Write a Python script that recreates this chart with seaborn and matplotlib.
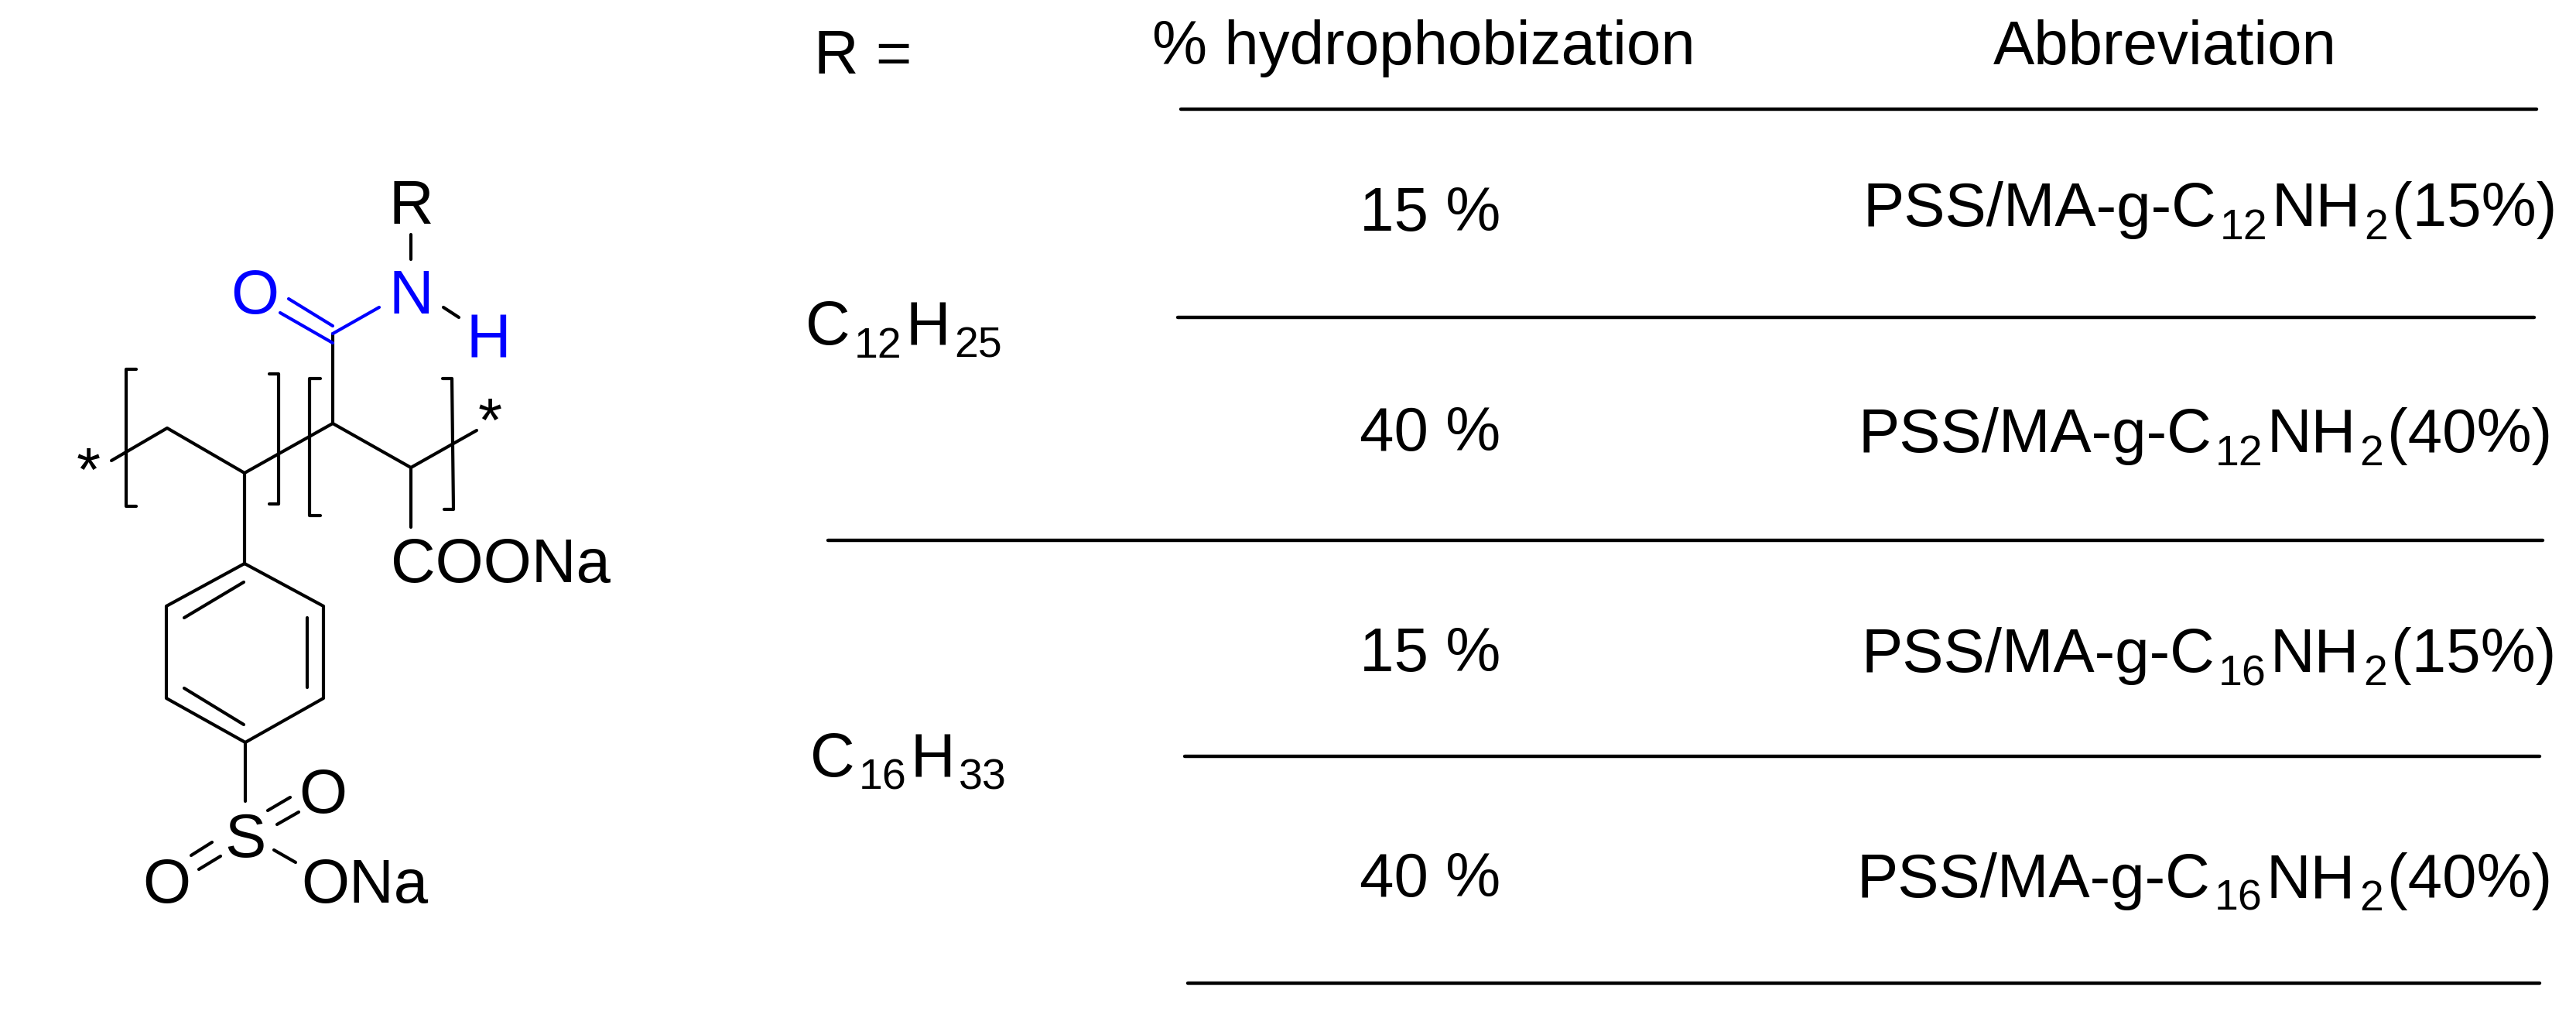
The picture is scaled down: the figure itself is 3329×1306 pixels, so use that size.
"""
Copolymer structure with the table of hydrophobized PSS/MA samples.
Everything is placed in pixel coordinates of the 3329x1306 figure.
"""

import matplotlib.pyplot as plt
import seaborn as sns
import pandas as pd

# Table content
header_r = 'R ='
header_pct = '% hydrophobization'
header_abbr = 'Abbreviation'
r_groups = [[('C', 0), ('12', 1), ('H', 0), ('25', 1)],
            [('C', 0), ('16', 1), ('H', 0), ('33', 1)]]
percents = ['15 %', '40 %', '15 %', '40 %']
abbreviations = [
    [('PSS/MA-g-C', 0), ('12', 1), ('NH', 0), ('2', 1), ('(15%)', 0)],
    [('PSS/MA-g-C', 0), ('12', 1), ('NH', 0), ('2', 1), ('(40%)', 0)],
    [('PSS/MA-g-C', 0), ('16', 1), ('NH', 0), ('2', 1), ('(15%)', 0)],
    [('PSS/MA-g-C', 0), ('16', 1), ('NH', 0), ('2', 1), ('(40%)', 0)],
]

# Table layout
rules = [(1526, 3278, 141), (1522, 3275, 410), (1070, 3286, 698),
         (1531, 3282, 977), (1535, 3282, 1270)]
percent_pos = [(1757, 298), (1757, 582), (1757, 867), (1757, 1158)]
abbr_pos = [(2407, 292), (2401, 584), (2405, 868), (2400, 1159)]
r_pos = [(1041, 445), (1047, 1003)]

# Structure drawing: polyline skeleton, black and blue parts
black_bonds = [
    [(144, 595), (216, 553), (316, 611), (430, 547), (531, 604), (616, 556)],
    [(531, 303), (531, 335)],
    [(430, 431), (430, 547)],
    [(531, 604), (531, 681)],
    [(316, 611), (316, 728)],
    [(573, 397), (593, 410)],
    # aromatic ring
    [(316, 728), (418, 783), (418, 902), (317, 959), (215, 902), (215, 783), (316, 728)],
    [(238, 798), (315, 752)],
    [(397, 798), (397, 888)],
    [(238, 889), (315, 936)],
    # sulfonate
    [(317, 959), (317, 1035)],
    [(346, 1047), (375, 1030)],
    [(358, 1065), (386, 1049)],
    [(247, 1105), (274, 1088)],
    [(257, 1123), (285, 1106)],
    [(354, 1098), (382, 1114)],
    # brackets
    [(176, 477), (163, 477), (163, 654), (176, 654)],
    [(348, 483), (360, 483), (360, 651), (348, 651)],
    [(414, 489), (400, 489), (400, 666), (414, 666)],
    [(572, 489), (584, 489), (586, 658), (574, 658)],
]
blue_bonds = [
    [(373, 386), (430, 421)],
    [(362, 404), (430, 443)],
    [(430, 431), (490, 397)],
]

# Atom labels: text, x, baseline y, colour
atoms = [
    ('R', 531, 289, 'black'),
    ('O', 329, 405, 'blue'),
    ('N', 531, 405, 'blue'),
    ('H', 631, 462, 'blue'),
    ('S', 317, 1107, 'black'),
    ('O', 417, 1050, 'black'),
    ('O', 215, 1166, 'black'),
]
left_labels = [('COONa', 505, 752), ('ONa', 389, 1166)]
stars = [(114, 613), (633, 549)]

FONT = 'Liberation Sans'
FS = 57.5
SUB_FS = 40

sns.set_theme(style='white')
plt.rcParams['font.family'] = [FONT, 'DejaVu Sans']
plt.rcParams['text.color'] = 'black'

fig, ax = plt.subplots(figsize=(33.29, 13.06), dpi=100)
fig.subplots_adjust(left=0, right=1, top=1, bottom=0)

# one row per vertex, grouped per polyline
rows = []
for colour, group in (('black', black_bonds), ('blue', blue_bonds)):
    for i, line in enumerate(group):
        for order, (x, y) in enumerate(line):
            rows.append({'x': x, 'y': y, 'bond': f'{colour}{i}', 'order': order, 'colour': colour})
bonds = pd.DataFrame(rows)
sns.lineplot(data=bonds, x='x', y='y', units='bond', hue='colour', estimator=None, sort=False,
             palette={'black': '#000000', 'blue': '#0000ff'}, linewidth=3.0,
             legend=False, ax=ax)

rule_df = pd.DataFrame([{'x': x, 'y': y, 'rule': i}
                        for i, (x0, x1, y) in enumerate(rules) for x in (x0, x1)])
sns.lineplot(data=rule_df, x='x', y='y', units='rule', estimator=None, sort=False,
             color='black', linewidth=3.2, legend=False, ax=ax)

ax.set_xlim(0, 3329)
ax.set_ylim(1306, 0)
ax.axis('off')


def draw_formula(x, y, parts):
    """Write text segments one after the other, subscripts smaller and lower."""
    renderer = fig.canvas.get_renderer()
    for text, is_sub in parts:
        size = SUB_FS if is_sub else FS
        t = ax.text(x, y + (17 if is_sub else 0), text, fontsize=size, va='baseline', ha='left')
        x += t.get_window_extent(renderer).width + 5


ax.text(1052, 95, header_r, fontsize=FS, va='baseline', ha='left')
ax.text(1489, 83, header_pct, fontsize=FS, va='baseline', ha='left')
ax.text(2798, 83, header_abbr, fontsize=FS, va='baseline', ha='center')

for label, (x, y) in zip(percents, percent_pos):
    ax.text(x, y, label, fontsize=FS, va='baseline', ha='left')
for parts, (x, y) in zip(abbreviations, abbr_pos):
    draw_formula(x, y, parts)
for parts, (x, y) in zip(r_groups, r_pos):
    draw_formula(x, y, parts)

for label, x, y, colour in atoms:
    ax.text(x, y, label, fontsize=FS, va='baseline', ha='center', color=colour)
for label, x, y in left_labels:
    ax.text(x, y, label, fontsize=FS, va='baseline', ha='left')
for x, y in stars:
    ax.text(x, y, '*', fontsize=FS, va='center', ha='center')

fig.savefig('out.png', dpi=100, facecolor='white')
